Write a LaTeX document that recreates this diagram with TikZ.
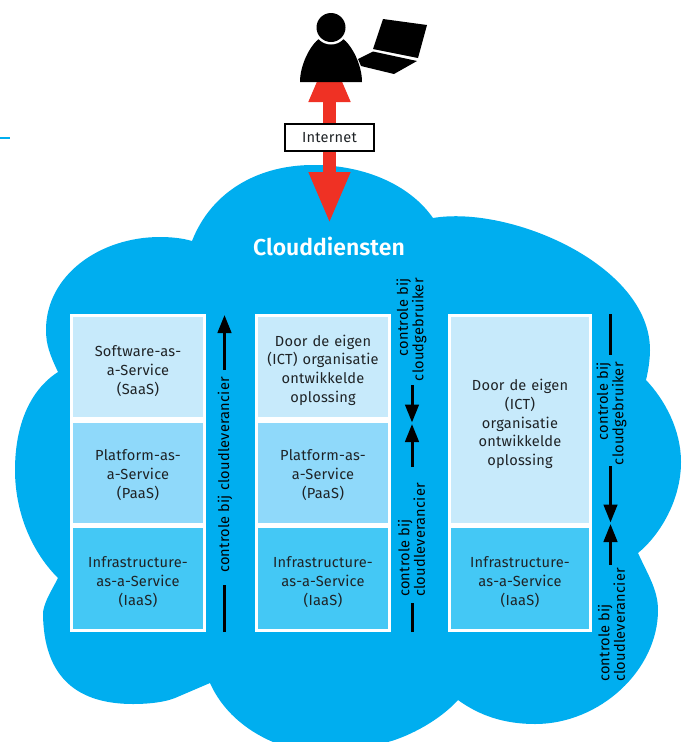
\documentclass[tikz,border=0pt]{standalone}
\usepackage{fontspec}
\setmainfont{Fira Sans}[LetterSpace=1.5]
\newfontfamily\boldf{Fira Sans}[BoldFont={Fira Sans SemiBold}]
\usetikzlibrary{arrows.meta,positioning}
\definecolor{cloudc}{HTML}{00AEEF}
\definecolor{saasc}{HTML}{C7EAFB}
\definecolor{paasc}{HTML}{8FD9FA}
\definecolor{iaasc}{HTML}{44C8F5}
\definecolor{redc}{HTML}{EF3124}
\definecolor{inkc}{HTML}{1F2326}
\tikzset{
  layerbox/.style={draw=white,line width=3pt,outer sep=0pt,inner sep=0pt,anchor=north west},
  boxtext/.style={inner sep=0pt,text=inkc,align=center,
    font=\fontsize{14.6pt}{18.7pt}\selectfont,text width=130pt},
  vlabel/.style={rotate=90,text=black,inner sep=0pt,font=\fontsize{14.6pt}{13pt}\selectfont},
  ctrl/.style={line width=3pt,black},
  ctrlarrow/.style={ctrl,-{Triangle[length=18pt,width=13.5pt]}},
}
\begin{document}
\begin{tikzpicture}[x=1pt,y=-1pt]
\useasboundingbox (0,0) rectangle (688,742);
% stray dash
\coordinate (dashA) at (0,137.5); \coordinate (dashB) at (10,137.5);
\draw[cloudc,line width=2pt] (dashA) -- (dashB);
% cloud
\fill[cloudc] (192,241) .. controls (212,190) and (260,165) .. (313,165)
 .. controls (365,165) and (410,185) .. (433,218)
 .. controls (510,205) and (650,265) .. (650,350)
 .. controls (650,360) and (648,372) .. (646,380)
 .. controls (665,400) and (681,430) .. (681,462)
 .. controls (681,500) and (660,535) .. (638,553)
 .. controls (648,575) and (658,590) .. (658,610)
 .. controls (658,670) and (600,724) .. (535,724)
 .. controls (505,724) and (480,716) .. (458,700)
 .. controls (440,720) and (410,736) .. (388,742)
 -- (273,742)
 .. controls (245,730) and (222,710) .. (210,683)
 -- (175,698)
 .. controls (165,702) and (150,704) .. (133,704)
 .. controls (80,704) and (43,680) .. (43,612)
 .. controls (45,600) and (52,590) .. (58,578)
 .. controls (30,550) and (15,510) .. (15,470)
 .. controls (15,425) and (30,390) .. (58,372)
 .. controls (50,355) and (46,345) .. (46,330)
 .. controls (46,275) and (100,237) .. (160,237)
 .. controls (170,237) and (182,238) .. (192,241) -- cycle;
% red double arrow
\coordinate (redTop) at (329.5,50); \coordinate (redBot) at (329.5,224);
\draw[redc,line width=13pt,{Triangle[length=52pt,width=38pt]}-{Triangle[length=52pt,width=38pt]}] (redTop) -- (redBot);
% person
\fill[black] (300,82) .. controls (300,65) and (310,45) .. (320,38)
  -- (342,38)
  .. controls (352,45) and (362,65) .. (362,82) -- cycle;
\fill[white] (331,27.5) circle (17);
\fill[black] (331,27.5) circle (14.5);
% laptop
\fill[black] (383,19) -- (427,25) -- (418,58) -- (373,49) -- cycle;
\fill[black] (358,59) -- (373,51.5) -- (417,61) -- (394,74) -- (361,66) -- cycle;
% internet
\node[draw=black,line width=2pt,fill=white,minimum width=89pt,minimum height=27pt,inner sep=0pt,outer sep=0pt,
  text=inkc,font=\fontsize{14.6pt}{16pt}\selectfont] (internet) at (329.5,137.5) {Internet};
\node[text=white,inner sep=0pt,font=\boldf\bfseries\fontsize{23pt}{25pt}\selectfont] (title) at (329,246) {Clouddiensten};
% column 1
\node[layerbox,fill=saasc,minimum width=133pt,minimum height=103pt,label={[boxtext,yshift=-4pt]center:{Software-as-\\a-Service\\(SaaS)}}] (saasA) at (71.5,315.5) {};
\node[layerbox,fill=paasc,minimum width=133pt,minimum height=103.5pt,label={[boxtext,yshift=-2.5pt]center:{Platform-as-\\a-Service\\(PaaS)}}] (paasA) at (71.5,421) {};
\node[layerbox,fill=iaasc,minimum width=133pt,minimum height=104pt,label={[boxtext,yshift=-3.75pt]center:{Infrastructure-\\as-a-Service\\(IaaS)}}] (iaasA) at (71.5,526.5) {};
% column 2
\node[layerbox,fill=saasc,minimum width=133pt,minimum height=103pt,label={[boxtext,yshift=-3pt]center:{Door de eigen\\(ICT) organisatie\\ontwikkelde\\oplossing}}] (saasB) at (256.5,315.5) {};
\node[layerbox,fill=paasc,minimum width=133pt,minimum height=103.5pt,label={[boxtext,yshift=-2.5pt]center:{Platform-as-\\a-Service\\(PaaS)}}] (paasB) at (256.5,421) {};
\node[layerbox,fill=iaasc,minimum width=133pt,minimum height=104pt,label={[boxtext,yshift=-3.75pt]center:{Infrastructure-\\as-a-Service\\(IaaS)}}] (iaasB) at (256.5,526.5) {};
% column 3
\node[layerbox,fill=saasc,minimum width=141pt,minimum height=209pt,label={[boxtext,yshift=-4pt]center:{Door de eigen\\(ICT)\\organisatie\\ontwikkelde\\oplossing}}] (saasC) at (449.5,315.5) {};
\node[layerbox,fill=iaasc,minimum width=141pt,minimum height=104pt,label={[boxtext,yshift=-3.75pt]center:{Infrastructure-\\as-a-Service\\(IaaS)}}] (iaasC) at (449.5,526.5) {};
% column 1 control
\coordinate (a1) at (224.5,370); \coordinate (a2) at (224.5,315);
\coordinate (a3) at (224.5,632); \coordinate (a4) at (224.5,585);
\draw[ctrlarrow] (a1) -- (a2);
\draw[ctrl] (a3) -- (a4);
\node[vlabel,anchor=west] (l1) at (225,573) {controle bij cloudleverancier};
% column 2 control
\coordinate (b1) at (412,385); \coordinate (b2) at (412,422.5);
\coordinate (b3) at (412,467); \coordinate (b4) at (412,424);
\coordinate (b5) at (412,632); \coordinate (b6) at (412,603);
\draw[ctrlarrow] (b1) -- (b2);
\draw[ctrlarrow] (b3) -- (b4);
\draw[ctrl] (b5) -- (b6);
\node[vlabel,anchor=east,align=right] (l2) at (411.5,278) {controle bij\\cloudgebruiker};
\node[vlabel,anchor=west,align=left] (l3) at (411.5,597) {controle bij\\cloudleverancier};
% column 3 control
\coordinate (c1) at (610.5,314); \coordinate (c2) at (610.5,355);
\coordinate (c3) at (610.5,466); \coordinate (c4) at (610.5,522.5);
\coordinate (c5) at (610.5,565); \coordinate (c6) at (610.5,524);
\draw[ctrl] (c1) -- (c2);
\draw[ctrlarrow] (c3) -- (c4);
\draw[ctrlarrow] (c5) -- (c6);
\node[vlabel,anchor=east,align=right] (l4) at (611.5,362) {controle bij\\cloudgebruiker};
\node[vlabel,anchor=west,align=left] (l5) at (611.5,682) {controle bij\\cloudleverancier};
\end{tikzpicture}
\end{document}
